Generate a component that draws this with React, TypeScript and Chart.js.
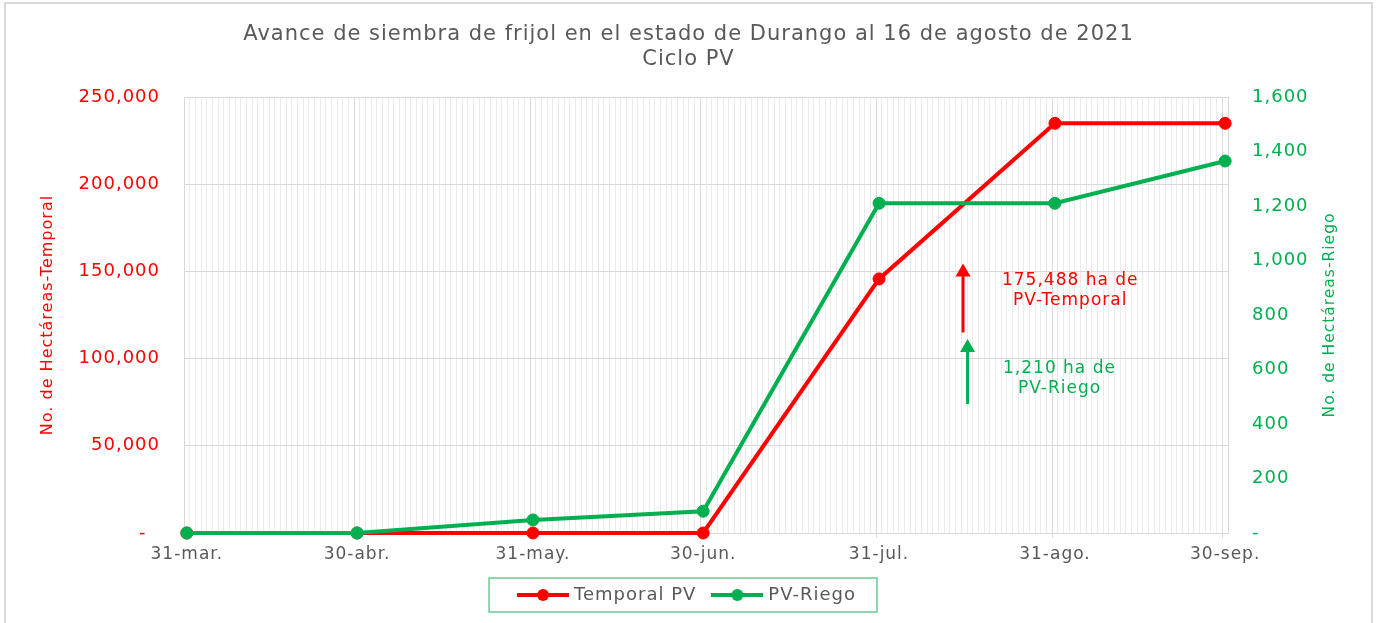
import React, { useEffect, useRef } from 'react';
import { Chart, registerables } from 'chart.js';

Chart.register(...registerables);

// ---------- data ----------
const categoryLabels = ['31-mar.', '30-abr.', '31-may.', '30-jun.', '31-jul.', '31-ago.', '30-sep.'];
// day offsets from 31-mar for each category date
const dayOffsets = [0, 30, 61, 91, 122, 153, 183];
const totalDays = 184;
const temporalPV = [0, 0, 0, 0, 145700, 234900, 234900];
const riegoPV = [0, 0, 48, 80, 1210, 1210, 1365];
const seriesNames = ['Temporal PV', 'PV-Riego'];
const titleLines = ['Avance de siembra de frijol en el estado de Durango al 16 de agosto de 2021', 'Ciclo PV'];
const leftAxisTitle = 'No. de Hectáreas-Temporal';
const rightAxisTitle = 'No. de Hectáreas-Riego';
const temporalNoteLines = ['175,488 ha de', 'PV-Temporal'];
const riegoNoteLines = ['1,210 ha de', 'PV-Riego'];
// annotation anchors in data coordinates (day offset, axis value)
const temporalArrow = { day: 136.8, from: 115000, to: 154500 };
const riegoArrow = { day: 137.6, from: 473, to: 712 };
const temporalNote = { day: 155.7, value: 139000 };
const riegoNote = { day: 153.8, value: 565 };

// ---------- style ----------
const FONT = 'DejaVu Sans';
const GRAY = '#595959';
const RED = '#FF0000';
const GREEN = '#00B050';
const GRID_MAJOR = '#d9d9d9';
const GRID_MINOR = '#ebebeb';
const LETTER_SPACING = '1px';

function makeIcon(color: string): HTMLCanvasElement {
  const c = document.createElement('canvas');
  c.width = 52;
  c.height = 14;
  const g = c.getContext('2d')!;
  g.strokeStyle = color;
  g.lineWidth = 4;
  g.beginPath();
  g.moveTo(0, 7);
  g.lineTo(52, 7);
  g.stroke();
  g.fillStyle = color;
  g.beginPath();
  g.arc(26, 7, 6, 0, Math.PI * 2);
  g.fill();
  return c;
}

function drawArrow(ctx: CanvasRenderingContext2D, x: number, yFrom: number, yTo: number, color: string) {
  const headH = 13;
  const headW = 15;
  ctx.save();
  ctx.strokeStyle = color;
  ctx.fillStyle = color;
  ctx.lineWidth = 3;
  ctx.beginPath();
  ctx.moveTo(x, yFrom);
  ctx.lineTo(x, yTo + headH - 1);
  ctx.stroke();
  ctx.beginPath();
  ctx.moveTo(x, yTo);
  ctx.lineTo(x - headW / 2, yTo + headH);
  ctx.lineTo(x + headW / 2, yTo + headH);
  ctx.closePath();
  ctx.fill();
  ctx.restore();
}

export default function App() {
  const ref = useRef<HTMLCanvasElement>(null);

  useEffect(() => {
    const canvas = ref.current!;
    const icons = [makeIcon(RED), makeIcon(GREEN)];

    const spacingPlugin = {
      id: 'spacing',
      beforeUpdate(chart: any) {
        chart.ctx.letterSpacing = LETTER_SPACING;
      },
      beforeDraw(chart: any) {
        const ctx = chart.ctx;
        ctx.letterSpacing = LETTER_SPACING;
        ctx.save();
        ctx.fillStyle = '#ffffff';
        ctx.fillRect(0, 0, chart.width, chart.height);
        ctx.strokeStyle = '#d9d9d9';
        ctx.lineWidth = 2;
        ctx.strokeRect(5, 3, chart.width - 10, chart.height + 40);
        ctx.restore();
      },
    };

    const decorPlugin = {
      id: 'decor',
      afterDatasetsDraw(chart: any) {
        const ctx = chart.ctx;
        const x = chart.scales.x;
        const y = chart.scales.y;
        const y1 = chart.scales.y1;
        drawArrow(ctx, x.getPixelForValue(temporalArrow.day), y.getPixelForValue(temporalArrow.from), y.getPixelForValue(temporalArrow.to), RED);
        drawArrow(ctx, x.getPixelForValue(riegoArrow.day), y1.getPixelForValue(riegoArrow.from), y1.getPixelForValue(riegoArrow.to), GREEN);
        ctx.save();
        ctx.font = `17px "${FONT}"`;
        ctx.textAlign = 'center';
        ctx.textBaseline = 'middle';
        const lh = 20;
        ctx.fillStyle = RED;
        const tx = x.getPixelForValue(temporalNote.day);
        const ty = y.getPixelForValue(temporalNote.value);
        temporalNoteLines.forEach((t, i) => ctx.fillText(t, tx, ty + (i - (temporalNoteLines.length - 1) / 2) * lh));
        ctx.fillStyle = GREEN;
        const gx = x.getPixelForValue(riegoNote.day);
        const gy = y1.getPixelForValue(riegoNote.value);
        riegoNoteLines.forEach((t, i) => ctx.fillText(t, gx, gy + (i - (riegoNoteLines.length - 1) / 2) * lh));
        ctx.restore();
      },
      afterDraw(chart: any) {
        const ctx = chart.ctx;
        const area = chart.chartArea;
        // right axis title, reading bottom-to-top
        ctx.save();
        ctx.font = `15.5px "${FONT}"`;
        ctx.fillStyle = GREEN;
        ctx.textAlign = 'center';
        ctx.textBaseline = 'middle';
        ctx.translate(area.right + 102, (area.top + area.bottom) / 2);
        ctx.rotate(-Math.PI / 2);
        ctx.fillText(rightAxisTitle, 0, 0);
        ctx.restore();
        // legend frame
        const lg = chart.legend;
        const hb = lg && lg.legendHitBoxes;
        if (hb && hb.length) {
          const left = hb[0].left - 32;
          const last = hb[hb.length - 1];
          const right = last.left + last.width + 21;
          const cy = hb[0].top + 9;
          ctx.save();
          ctx.strokeStyle = '#66cc8f';
          ctx.lineWidth = 1.5;
          ctx.strokeRect(left, cy - 17, right - left, 34);
          ctx.restore();
        }
      },
    };

    const isMajor = (v: number) => dayOffsets.includes(v);

    const chart = new Chart(canvas, {
      type: 'line',
      data: {
        datasets: [
          {
            label: seriesNames[0],
            data: dayOffsets.map((d, i) => ({ x: d, y: temporalPV[i] })),
            yAxisID: 'y',
            borderColor: RED,
            backgroundColor: RED,
            pointBackgroundColor: RED,
            pointBorderColor: RED,
            borderWidth: 4,
            pointRadius: 6,
            pointBorderWidth: 1,
            order: 1,
            clip: false as any,
          },
          {
            label: seriesNames[1],
            data: dayOffsets.map((d, i) => ({ x: d, y: riegoPV[i] })),
            yAxisID: 'y1',
            borderColor: GREEN,
            backgroundColor: GREEN,
            pointBackgroundColor: GREEN,
            pointBorderColor: GREEN,
            borderWidth: 4,
            pointRadius: 6,
            pointBorderWidth: 1,
            order: 0,
            clip: false as any,
          },
        ],
      },
      options: {
        responsive: false,
        animation: false,
        devicePixelRatio: 1,
        layout: { padding: { top: 0, left: 0, right: 0, bottom: 9 } },
        scales: {
          x: {
            type: 'linear',
            position: 'bottom',
            min: -0.5,
            max: totalDays - 0.5,
            afterBuildTicks: (scale: any) => {
              scale.ticks = Array.from({ length: totalDays }, (_, i) => ({ value: i }));
            },
            afterFit: (scale: any) => {
              scale.height = 34;
            },
            ticks: {
              autoSkip: false,
              maxRotation: 0,
              minRotation: 0,
              padding: 6,
              color: GRAY,
              font: { family: FONT, size: 17 },
              callback: (value: any) => {
                const idx = dayOffsets.indexOf(Number(value));
                return idx >= 0 ? categoryLabels[idx] : '';
              },
            },
            grid: {
              offset: true,
              lineWidth: 1,
              tickLength: 5,
              color: (c: any) => (c.tick ? (isMajor(c.tick.value) ? GRID_MAJOR : GRID_MINOR) : GRID_MAJOR),
              tickColor: (c: any) => (c.tick && isMajor(c.tick.value) ? GRID_MAJOR : 'rgba(0,0,0,0)'),
            },
            border: { display: true, color: GRID_MAJOR },
          },
          y: {
            type: 'linear',
            position: 'left',
            min: 0,
            max: 250000,
            afterFit: (scale: any) => {
              scale.width = 184;
            },
            ticks: {
              stepSize: 50000,
              padding: 24,
              color: RED,
              font: { family: FONT, size: 18 },
              callback: (value: any) => (Number(value) === 0 ? '-  ' : Number(value).toLocaleString('en-US')),
            },
            grid: { color: GRID_MAJOR, drawTicks: false },
            border: { display: true, color: GRID_MAJOR },
            title: {
              display: true,
              text: leftAxisTitle,
              color: RED,
              font: { family: FONT, size: 16 },
              padding: { top: 38, bottom: 0 },
            },
          },
          y1: {
            type: 'linear',
            position: 'right',
            min: 0,
            max: 1600,
            afterFit: (scale: any) => {
              scale.width = 149;
            },
            ticks: {
              stepSize: 200,
              padding: 24,
              color: GREEN,
              font: { family: FONT, size: 18 },
              callback: (value: any) => (Number(value) === 0 ? '-' : Number(value).toLocaleString('en-US')),
            },
            grid: { drawOnChartArea: false, drawTicks: false },
            border: { display: true, color: GRID_MAJOR },
          },
        },
        plugins: {
          title: {
            display: true,
            text: titleLines,
            color: GRAY,
            font: { family: FONT, size: 21, weight: 'normal', lineHeight: 25 / 21 },
            padding: { top: 22, bottom: 25 },
          },
          legend: {
            display: true,
            position: 'bottom',
            labels: {
              usePointStyle: true,
              pointStyleWidth: 44,
              padding: 19,
              color: GRAY,
              font: { family: FONT, size: 18 },
              sort: (a: any, b: any) => a.datasetIndex - b.datasetIndex,
              generateLabels: (ch: any) => {
                const items = (Chart as any).defaults.plugins.legend.labels.generateLabels(ch);
                items.forEach((it: any) => {
                  it.pointStyle = icons[it.datasetIndex];
                });
                return items;
              },
            },
          },
          tooltip: { enabled: false },
        },
      } as any,
      plugins: [spacingPlugin, decorPlugin],
    });

    return () => chart.destroy();
  }, []);

  return (
    <div style={{ position: 'fixed', left: 0, top: 0, width: 1377, height: 623, overflow: 'hidden', background: '#fff' }}>
      <canvas ref={ref} width={1377} height={623} style={{ display: 'block', width: 1377, height: 623 }} />
    </div>
  );
}
